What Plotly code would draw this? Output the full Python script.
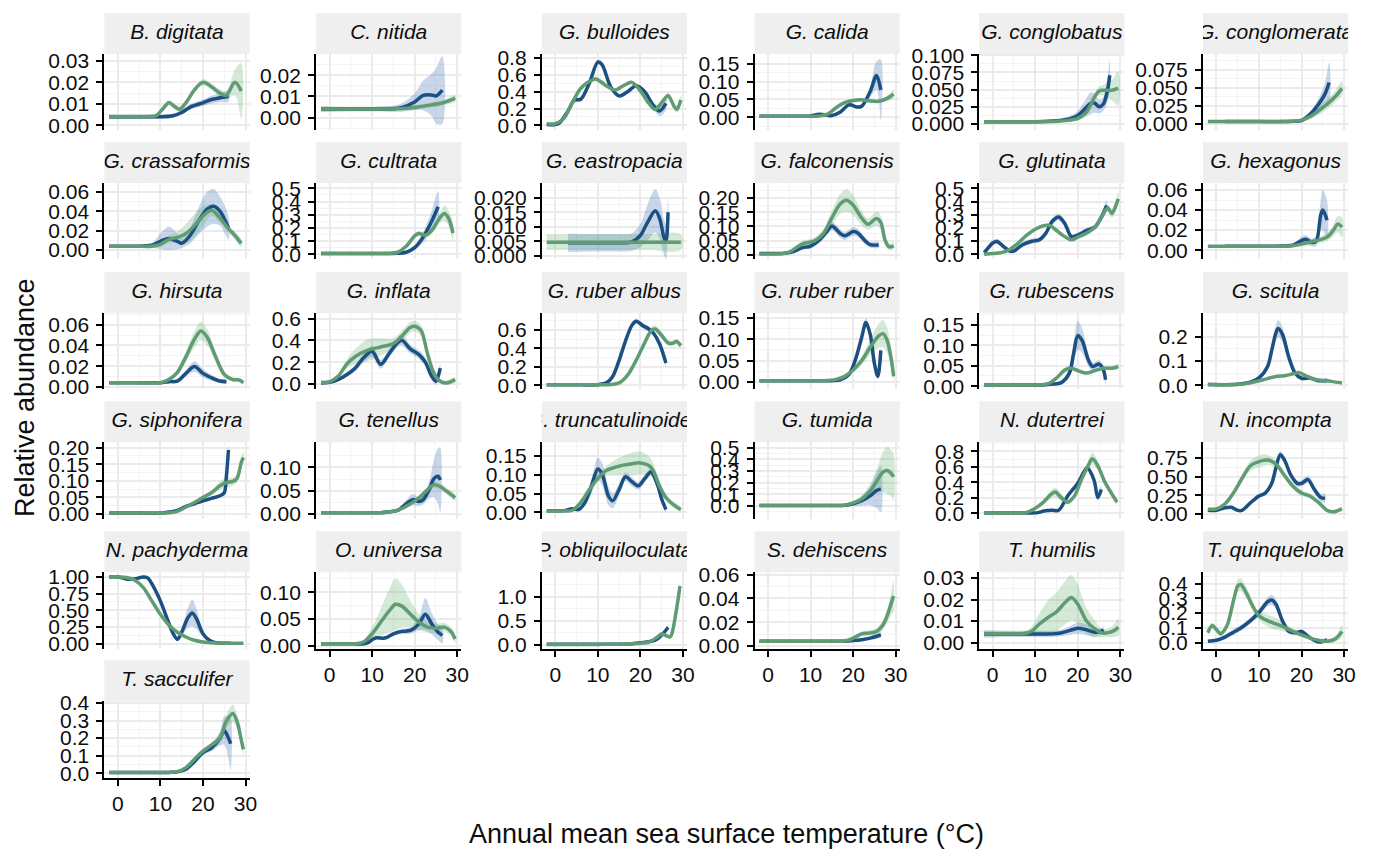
import plotly.graph_objects as go

# ---------------------------------------------------------------
# Species panels (facet order)
# ---------------------------------------------------------------
SPECIES = [
    "B. digitata", "C. nitida", "G. bulloides", "G. calida", "G. conglobatus", "G. conglomerata",
    "G. crassaformis", "G. cultrata", "G. eastropacia", "G. falconensis", "G. glutinata", "G. hexagonus",
    "G. hirsuta", "G. inflata", "G. ruber albus", "G. ruber ruber", "G. rubescens", "G. scitula",
    "G. siphonifera", "G. tenellus", "G. truncatulinoides", "G. tumida", "N. dutertrei", "N. incompta",
    "N. pachyderma", "O. universa", "P. obliquiloculata", "S. dehiscens", "T. humilis", "T. quinqueloba",
    "T. sacculifer",
]

# ---------------------------------------------------------------
# Blue series: temperature, smoothed fit, confidence half-width
# ---------------------------------------------------------------
BLUE_T = {
    "B. digitata": [-2, 2, 6, 10, 13, 15, 17, 20, 22, 24, 26],
    "C. nitida": [-2, 4, 10, 15, 17, 20, 22, 24, 25, 26.5],
    "G. bulloides": [-2, 0, 1, 3, 4.5, 6, 8, 10, 11, 13, 15, 17, 19, 21, 23, 24.5, 26],
    "G. calida": [-2, 4, 10, 12, 14, 15, 17, 19, 21, 22, 24, 25.5, 26.5],
    "G. conglobatus": [-2, 4, 10, 14, 16, 18, 20, 22, 23, 24, 25, 26, 27, 27.5],
    "G. conglomerata": [2, 6, 10, 14, 18, 20, 22, 24, 25.5, 26.5],
    "G. crassaformis": [-2, 4, 8, 10, 12, 14, 15, 17, 19, 21, 22.5, 24, 26],
    "G. cultrata": [-2, 4, 10, 16, 18, 20, 22, 24, 25.5],
    "G. eastropacia": [3, 8, 12, 16, 18, 20, 21.5, 23.5, 24.5, 25.5, 26, 26.5],
    "G. falconensis": [-2, 2, 4, 6, 8, 10, 12, 14, 15, 17, 18, 20, 21, 23, 24, 26],
    "G. glutinata": [-2, -1, 0, 1, 2.5, 4, 5, 7, 9, 11, 12.5, 14, 15.5, 17, 18.5, 20, 22, 24, 25.5, 26.8],
    "G. hexagonus": [2, 8, 14, 18, 20, 21, 22.5, 23.5, 24.5, 25, 26],
    "G. hirsuta": [-2, 4, 10, 12, 14, 16, 18, 20, 22, 24, 25.5],
    "G. inflata": [-2, 0, 2, 4, 6, 8, 10, 12, 14, 16, 17, 19, 21, 22.5, 24, 25, 26],
    "G. ruber albus": [-2, 4, 10, 12, 13.5, 15, 16.5, 18, 19, 20.5, 22, 23, 24.5, 26],
    "G. ruber ruber": [-2, 4, 10, 15, 17, 19, 20.5, 22, 23, 24, 25, 25.8, 26.5],
    "G. rubescens": [-2, 4, 10, 12, 14, 16, 18, 19, 20, 21, 22.5, 23.5, 25, 26, 26.5],
    "G. scitula": [-2, 4, 6, 8, 10, 12, 13, 14, 14.5, 15.5, 17, 18.5, 20, 22, 24, 26],
    "G. siphonifera": [-2, 4, 10, 12, 14, 16, 18, 20, 22, 24, 25, 25.5, 26],
    "G. tenellus": [-2, 4, 10, 12, 14, 16, 18, 19.5, 21, 22, 23.5, 24.5, 25.5, 26],
    "G. truncatulinoides": [-2, 2, 4, 5.5, 7, 8.5, 10, 11, 12.5, 13.5, 15, 16.5, 18, 19.5, 21, 22.5, 24, 25, 26],
    "G. tumida": [-2, 4, 10, 16, 18, 20, 22, 24, 25.5, 26.5],
    "N. dutertrei": [-2, 4, 8, 10.6, 12, 14, 15.5, 17.6, 20, 22.2, 23.8, 24.7, 25.5],
    "N. incompta": [-2, 0, 2, 3.5, 5, 6, 8, 10, 11.5, 13, 14, 15, 16, 17.5, 19, 20, 21.5, 23, 24.5, 25.5],
    "N. pachyderma": [-2, 0, 2, 4, 6, 7, 8.5, 10, 11.5, 13, 14, 15, 16.5, 17.5, 18.5, 20, 21.5, 23, 26.5],
    "O. universa": [-2, 4, 8, 9, 10, 11, 13, 15, 17, 19, 21, 22.5, 24, 25.5, 26.5],
    "P. obliquiloculata": [-2, 4, 10, 14, 16, 18, 20, 22, 24, 25, 26, 26.5],
    "S. dehiscens": [-2, 4, 10, 16, 18, 20, 22, 24, 26.5],
    "T. humilis": [-2, 4, 10, 14, 16, 18, 20, 22, 24, 25.5, 26],
    "T. quinqueloba": [-2, 0, 2, 4, 6, 8, 10, 12, 13, 14, 15.5, 17, 18.5, 20, 21.5, 23, 24.5, 26],
    "T. sacculifer": [-2, 4, 10, 12, 14, 16, 18, 20, 22, 24, 25, 26, 26.5],
}

BLUE_FIT = {
    "B. digitata": [0.004, 0.004, 0.004, 0.004, 0.0045, 0.006, 0.0085, 0.0105, 0.012, 0.0128, 0.0135],
    "C. nitida": [0.004, 0.004, 0.004, 0.0042, 0.0048, 0.0074, 0.0105, 0.0107, 0.0102, 0.013],
    "G. bulloides": [0.01, 0.01, 0.03, 0.17, 0.30, 0.31, 0.50, 0.75, 0.72, 0.46, 0.35, 0.40, 0.47, 0.40, 0.24, 0.17, 0.26],
    "G. calida": [0.003, 0.003, 0.004, 0.009, 0.006, 0.005, 0.015, 0.035, 0.029, 0.031, 0.072, 0.117, 0.077],
    "G. conglobatus": [0.003, 0.003, 0.003, 0.004, 0.005, 0.007, 0.012, 0.024, 0.030, 0.030, 0.025, 0.029, 0.050, 0.071],
    "G. conglomerata": [0.003, 0.003, 0.003, 0.003, 0.0035, 0.0045, 0.013, 0.027, 0.041, 0.057],
    "G. crassaformis": [0.004, 0.004, 0.005, 0.009, 0.012, 0.009, 0.007, 0.015, 0.030, 0.042, 0.045, 0.040, 0.023],
    "G. cultrata": [0.005, 0.005, 0.005, 0.007, 0.015, 0.05, 0.13, 0.25, 0.36],
    "G. eastropacia": [0.0045, 0.0045, 0.0045, 0.0045, 0.0048, 0.007, 0.011, 0.0155, 0.013, 0.0066, 0.005, 0.015],
    "G. falconensis": [0.005, 0.005, 0.006, 0.012, 0.025, 0.031, 0.052, 0.086, 0.102, 0.075, 0.067, 0.082, 0.078, 0.047, 0.036, 0.035],
    "G. glutinata": [0.012, 0.05, 0.085, 0.097, 0.06, 0.024, 0.025, 0.072, 0.097, 0.11, 0.16, 0.25, 0.283, 0.23, 0.133, 0.145, 0.18, 0.205, 0.28, 0.37],
    "G. hexagonus": [0.004, 0.004, 0.004, 0.005, 0.0095, 0.011, 0.0076, 0.0095, 0.035, 0.040, 0.030],
    "G. hirsuta": [0.004, 0.004, 0.004, 0.005, 0.0056, 0.013, 0.0197, 0.013, 0.0088, 0.0056, 0.005],
    "G. inflata": [0.01, 0.015, 0.04, 0.085, 0.145, 0.24, 0.30, 0.18, 0.28, 0.38, 0.40, 0.32, 0.27, 0.20, 0.07, 0.025, 0.145],
    "G. ruber albus": [0.005, 0.005, 0.006, 0.025, 0.095, 0.27, 0.48, 0.65, 0.695, 0.65, 0.61, 0.57, 0.45, 0.24],
    "G. ruber ruber": [0.003, 0.003, 0.003, 0.003, 0.005, 0.017, 0.051, 0.104, 0.139, 0.112, 0.043, 0.013, 0.074],
    "G. rubescens": [0.003, 0.003, 0.003, 0.003, 0.005, 0.008, 0.032, 0.08, 0.124, 0.112, 0.064, 0.048, 0.054, 0.04, 0.016],
    "G. scitula": [0.003, 0.003, 0.006, 0.013, 0.03, 0.076, 0.143, 0.216, 0.233, 0.21, 0.116, 0.05, 0.029, 0.03, 0.019, 0.02],
    "G. siphonifera": [0.003, 0.003, 0.003, 0.006, 0.011, 0.023, 0.031, 0.04, 0.047, 0.055, 0.064, 0.112, 0.193],
    "G. tenellus": [0.003, 0.003, 0.003, 0.003, 0.005, 0.008, 0.022, 0.031, 0.027, 0.031, 0.054, 0.076, 0.081, 0.073],
    "G. truncatulinoides": [0.004, 0.005, 0.01, 0.008, 0.027, 0.07, 0.116, 0.103, 0.044, 0.031, 0.061, 0.095, 0.082, 0.071, 0.09, 0.108, 0.074, 0.036, 0.008],
    "G. tumida": [0.005, 0.005, 0.005, 0.005, 0.007, 0.02, 0.046, 0.087, 0.133, 0.147],
    "N. dutertrei": [0.005, 0.005, 0.005, 0.01, 0.03, 0.04, 0.04, 0.225, 0.39, 0.585, 0.43, 0.205, 0.31],
    "N. incompta": [0.05, 0.05, 0.085, 0.09, 0.05, 0.05, 0.15, 0.24, 0.28, 0.41, 0.62, 0.79, 0.72, 0.52, 0.41, 0.41, 0.46, 0.33, 0.22, 0.21],
    "N. pachyderma": [1.0, 1.0, 0.97, 0.97, 1.0, 0.985, 0.84, 0.64, 0.39, 0.15, 0.065, 0.17, 0.39, 0.46, 0.37, 0.15, 0.05, 0.015, 0.005],
    "O. universa": [0.004, 0.004, 0.004, 0.006, 0.0115, 0.015, 0.0146, 0.0225, 0.027, 0.0287, 0.041, 0.059, 0.041, 0.0256, 0.0195],
    "P. obliquiloculata": [0.007, 0.007, 0.007, 0.008, 0.01, 0.02, 0.04, 0.06, 0.12, 0.20, 0.30, 0.36],
    "S. dehiscens": [0.004, 0.004, 0.004, 0.004, 0.004, 0.0045, 0.0053, 0.0066, 0.0094],
    "T. humilis": [0.0041, 0.0041, 0.0041, 0.0041, 0.0045, 0.0056, 0.0067, 0.006, 0.0049, 0.0053, 0.006],
    "T. quinqueloba": [0.009, 0.016, 0.038, 0.071, 0.104, 0.149, 0.204, 0.276, 0.289, 0.26, 0.149, 0.076, 0.067, 0.076, 0.044, 0.016, 0.004, 0.02],
    "T. sacculifer": [0.005, 0.005, 0.005, 0.005, 0.008, 0.023, 0.066, 0.117, 0.145, 0.198, 0.243, 0.2, 0.168],
}

BLUE_SE = {
    "B. digitata": [0.001, 0.001, 0.001, 0.001, 0.001, 0.001, 0.0012, 0.0015, 0.0018, 0.002, 0.0025],
    "C. nitida": [0.0012, 0.001, 0.001, 0.0015, 0.002, 0.004, 0.007, 0.010, 0.013, 0.016],
    "G. bulloides": [0.01, 0.01, 0.02, 0.03, 0.03, 0.03, 0.03, 0.03, 0.03, 0.03, 0.02, 0.02, 0.02, 0.03, 0.04, 0.06, 0.08],
    "G. calida": [0.002, 0.002, 0.002, 0.003, 0.003, 0.003, 0.004, 0.005, 0.005, 0.006, 0.015, 0.04, 0.085],
    "G. conglobatus": [0.001, 0.001, 0.001, 0.002, 0.003, 0.004, 0.007, 0.013, 0.016, 0.014, 0.010, 0.010, 0.018, 0.022],
    "G. conglomerata": [0.001, 0.001, 0.001, 0.001, 0.001, 0.002, 0.004, 0.008, 0.015, 0.028],
    "G. crassaformis": [0.001, 0.001, 0.002, 0.008, 0.012, 0.008, 0.005, 0.008, 0.014, 0.018, 0.018, 0.015, 0.012],
    "G. cultrata": [0.005, 0.005, 0.005, 0.005, 0.01, 0.02, 0.04, 0.08, 0.12],
    "G. eastropacia": [0.0032, 0.003, 0.003, 0.003, 0.003, 0.004, 0.006, 0.0075, 0.007, 0.006, 0.006, 0.005],
    "G. falconensis": [0.003, 0.003, 0.003, 0.004, 0.006, 0.008, 0.01, 0.015, 0.015, 0.015, 0.015, 0.015, 0.015, 0.012, 0.01, 0.01],
    "G. glutinata": [0.02, 0.02, 0.02, 0.02, 0.02, 0.015, 0.015, 0.02, 0.02, 0.02, 0.02, 0.025, 0.025, 0.025, 0.02, 0.02, 0.02, 0.02, 0.03, 0.04],
    "G. hexagonus": [0.0012, 0.001, 0.001, 0.002, 0.004, 0.004, 0.004, 0.005, 0.015, 0.02, 0.02],
    "G. hirsuta": [0.001, 0.001, 0.001, 0.001, 0.0015, 0.003, 0.005, 0.004, 0.003, 0.002, 0.002],
    "G. inflata": [0.01, 0.01, 0.015, 0.02, 0.03, 0.04, 0.05, 0.04, 0.04, 0.04, 0.05, 0.04, 0.04, 0.04, 0.03, 0.03, 0.04],
    "G. ruber albus": [0.005, 0.005, 0.005, 0.01, 0.015, 0.02, 0.03, 0.03, 0.03, 0.03, 0.03, 0.03, 0.03, 0.03],
    "G. ruber ruber": [0.002, 0.002, 0.002, 0.002, 0.002, 0.004, 0.006, 0.008, 0.01, 0.01, 0.008, 0.006, 0.008],
    "G. rubescens": [0.001, 0.001, 0.001, 0.001, 0.002, 0.004, 0.01, 0.025, 0.035, 0.03, 0.015, 0.01, 0.01, 0.012, 0.015],
    "G. scitula": [0.002, 0.002, 0.003, 0.005, 0.008, 0.015, 0.02, 0.03, 0.035, 0.03, 0.02, 0.01, 0.008, 0.008, 0.008, 0.01],
    "G. siphonifera": [0.002, 0.002, 0.002, 0.002, 0.003, 0.004, 0.004, 0.004, 0.004, 0.005, 0.006, 0.01, 0.015],
    "G. tenellus": [0.001, 0.001, 0.001, 0.001, 0.002, 0.004, 0.008, 0.012, 0.01, 0.01, 0.02, 0.04, 0.06, 0.07],
    "G. truncatulinoides": [0.003, 0.003, 0.004, 0.005, 0.01, 0.02, 0.03, 0.03, 0.025, 0.02, 0.015, 0.012, 0.012, 0.01, 0.01, 0.01, 0.01, 0.01, 0.008],
    "G. tumida": [0.005, 0.005, 0.005, 0.005, 0.008, 0.02, 0.04, 0.08, 0.15, 0.2],
    "N. dutertrei": [0.003, 0.003, 0.003, 0.005, 0.01, 0.015, 0.015, 0.025, 0.03, 0.04, 0.04, 0.04, 0.05],
    "N. incompta": [0.02, 0.02, 0.02, 0.02, 0.02, 0.02, 0.03, 0.03, 0.03, 0.04, 0.04, 0.05, 0.04, 0.04, 0.04, 0.04, 0.05, 0.05, 0.05, 0.06],
    "N. pachyderma": [0.02, 0.02, 0.02, 0.02, 0.02, 0.02, 0.03, 0.03, 0.03, 0.03, 0.03, 0.06, 0.15, 0.2, 0.15, 0.05, 0.02, 0.01, 0.01],
    "O. universa": [0.002, 0.002, 0.002, 0.002, 0.003, 0.003, 0.003, 0.004, 0.005, 0.006, 0.012, 0.03, 0.02, 0.015, 0.015],
    "P. obliquiloculata": [0.01, 0.01, 0.01, 0.01, 0.01, 0.01, 0.01, 0.015, 0.02, 0.03, 0.04, 0.05],
    "S. dehiscens": [0.0012, 0.001, 0.001, 0.001, 0.001, 0.001, 0.0012, 0.0015, 0.002],
    "T. humilis": [0.0018, 0.0015, 0.0015, 0.0015, 0.0015, 0.002, 0.0025, 0.0025, 0.002, 0.0015, 0.0015],
    "T. quinqueloba": [0.01, 0.01, 0.015, 0.02, 0.02, 0.02, 0.025, 0.03, 0.035, 0.03, 0.02, 0.015, 0.015, 0.015, 0.012, 0.01, 0.01, 0.012],
    "T. sacculifer": [0.004, 0.004, 0.004, 0.004, 0.005, 0.008, 0.01, 0.015, 0.02, 0.04, 0.08, 0.12, 0.15],
}

# ---------------------------------------------------------------
# Green series: temperature, smoothed fit, confidence half-width
# ---------------------------------------------------------------
GREEN_T = {
    "B. digitata": [-2, 2, 6, 9, 10.5, 12, 13.5, 14.5, 16, 18, 20, 22, 24, 25.5, 27.5, 29],
    "C. nitida": [-2, 4, 10, 16, 20, 24, 27, 29.5],
    "G. bulloides": [-2, 0, 2, 4, 6, 8, 9.5, 12, 14, 16, 18, 20, 22, 23.5, 25, 26.5, 28, 28.6, 29.5],
    "G. calida": [-2, 4, 10, 12, 14, 16, 18, 20, 22, 24, 26, 28, 29.5],
    "G. conglobatus": [-2, 4, 10, 16, 20, 22, 24, 25, 26, 28, 29.5],
    "G. conglomerata": [-2, 4, 10, 16, 18, 20, 22, 24, 26, 28, 29.5],
    "G. crassaformis": [-2, 4, 8, 10, 12, 14, 16, 18, 20, 22, 24, 26, 27.5, 29],
    "G. cultrata": [-2, 4, 10, 14, 16, 18, 20, 21, 22.5, 24, 26, 27, 28, 29],
    "G. eastropacia": [-2, 4, 10, 16, 22, 29.5],
    "G. falconensis": [-2, 1, 3, 5, 8, 11, 13, 15, 17, 18.5, 20, 22, 23.5, 25.5, 26.5, 27.5, 28.5, 29.5],
    "G. glutinata": [-2, 0, 2, 4, 6, 8, 10, 12, 13.5, 15, 17, 18.5, 20, 22, 24, 25.5, 27, 28, 29, 29.5],
    "G. hexagonus": [-2, 4, 10, 16, 18, 20, 22, 24, 26, 27.5, 28.5, 29.5],
    "G. hirsuta": [-2, 4, 10, 12, 14, 16, 18, 19.5, 21, 23, 25, 27, 28.5, 29.5],
    "G. inflata": [-2, 0, 2, 4, 6, 9, 12, 15, 17, 19, 20, 21.5, 23, 24.5, 26, 27.5, 29.5],
    "G. ruber albus": [-2, 4, 10, 13, 15, 17, 19, 21, 22.5, 23.5, 25, 26.5, 27.5, 28.5, 29.5],
    "G. ruber ruber": [-2, 4, 10, 13, 16, 18, 20, 22, 24, 26, 27, 28, 29, 29.5],
    "G. rubescens": [-2, 4, 10, 13, 15, 17, 18.5, 20, 22, 24, 26, 28, 29.5],
    "G. scitula": [-2, 5, 8, 11, 14, 16, 18, 19.5, 21, 23, 25, 27, 29.5],
    "G. siphonifera": [-2, 4, 10, 12, 14, 16, 18, 20, 22, 24, 25.5, 27, 28, 29, 29.5],
    "G. tenellus": [-2, 4, 10, 12, 15, 17, 19, 21, 23, 24.5, 26, 27.5, 29.5],
    "G. truncatulinoides": [-2, 2, 4, 6, 8, 10, 12, 14, 16, 18, 20, 22, 23, 24.5, 26, 28, 29.5],
    "G. tumida": [-2, 4, 10, 16, 18, 20, 22, 24, 25.5, 27, 28, 29, 29.5],
    "N. dutertrei": [-2, 4, 7.8, 9.8, 11.8, 13.7, 14.7, 16.1, 17.6, 19.2, 20.8, 22.4, 23.4, 24.7, 26.3, 27.8, 29.2],
    "N. incompta": [-2, 0, 2, 4, 6, 8, 10, 12, 14, 16, 18, 20, 22, 24, 26, 27.5, 29.5],
    "N. pachyderma": [-2, 0, 2, 4, 6, 8, 10, 12, 14, 16, 18, 20, 23, 26, 29.5],
    "O. universa": [-2, 4, 6, 8, 10, 12, 14, 15.5, 17, 19, 21, 23, 25, 27, 28.5, 29.5],
    "P. obliquiloculata": [-2, 4, 10, 14, 16, 18, 20, 22, 24, 25, 26, 27, 27.5, 28.5, 29.3],
    "S. dehiscens": [-2, 4, 10, 16, 18, 19, 20.5, 22, 24, 25.5, 27, 28, 29, 29.5],
    "T. humilis": [-2, 4, 7, 9, 11, 13, 15, 17, 18.5, 20, 22, 24, 25.5, 27, 28.5, 29.5],
    "T. quinqueloba": [-2, -1, 0, 1, 2.5, 4, 5, 5.7, 7, 8.5, 10, 12, 14, 16, 18, 20, 22, 24, 26, 28, 29.5],
    "T. sacculifer": [-2, 4, 10, 12, 14, 16, 18, 20, 22, 24, 25.5, 27, 28, 29, 29.5],
}

GREEN_FIT = {
    "B. digitata": [0.004, 0.004, 0.004, 0.0045, 0.0075, 0.0105, 0.0085, 0.0075, 0.0105, 0.0165, 0.020, 0.018, 0.015, 0.014, 0.020, 0.016],
    "C. nitida": [0.004, 0.004, 0.004, 0.0042, 0.0048, 0.006, 0.0072, 0.009],
    "G. bulloides": [0.02, 0.02, 0.08, 0.27, 0.44, 0.52, 0.55, 0.47, 0.42, 0.47, 0.51, 0.41, 0.26, 0.19, 0.27, 0.35, 0.22, 0.19, 0.30],
    "G. calida": [0.003, 0.003, 0.003, 0.004, 0.009, 0.027, 0.041, 0.047, 0.049, 0.046, 0.045, 0.053, 0.065],
    "G. conglobatus": [0.003, 0.003, 0.003, 0.004, 0.008, 0.017, 0.040, 0.048, 0.049, 0.049, 0.052],
    "G. conglomerata": [0.003, 0.003, 0.003, 0.003, 0.0035, 0.005, 0.010, 0.018, 0.027, 0.038, 0.049],
    "G. crassaformis": [0.004, 0.004, 0.004, 0.006, 0.011, 0.013, 0.017, 0.025, 0.035, 0.041, 0.033, 0.022, 0.015, 0.007],
    "G. cultrata": [0.005, 0.005, 0.005, 0.006, 0.015, 0.06, 0.14, 0.157, 0.145, 0.18, 0.28, 0.31, 0.27, 0.16],
    "G. eastropacia": [0.0047, 0.0047, 0.0047, 0.0047, 0.0047, 0.0047],
    "G. falconensis": [0.003, 0.003, 0.004, 0.01, 0.038, 0.05, 0.075, 0.13, 0.18, 0.192, 0.175, 0.13, 0.108, 0.128, 0.114, 0.052, 0.028, 0.032],
    "G. glutinata": [0.0, 0.005, 0.012, 0.036, 0.085, 0.145, 0.19, 0.217, 0.217, 0.18, 0.133, 0.11, 0.13, 0.16, 0.205, 0.28, 0.35, 0.31, 0.375, 0.42],
    "G. hexagonus": [0.004, 0.004, 0.004, 0.004, 0.0045, 0.006, 0.008, 0.010, 0.013, 0.020, 0.026, 0.023],
    "G. hirsuta": [0.004, 0.004, 0.004, 0.007, 0.014, 0.029, 0.046, 0.054, 0.048, 0.029, 0.012, 0.007, 0.0066, 0.004],
    "G. inflata": [0.015, 0.02, 0.07, 0.18, 0.25, 0.31, 0.34, 0.37, 0.44, 0.52, 0.53, 0.49, 0.28, 0.10, 0.025, 0.01, 0.04],
    "G. ruber albus": [0.005, 0.005, 0.005, 0.007, 0.025, 0.11, 0.27, 0.46, 0.59, 0.61, 0.54, 0.46, 0.455, 0.475, 0.43],
    "G. ruber ruber": [0.003, 0.003, 0.003, 0.003, 0.006, 0.013, 0.028, 0.05, 0.081, 0.108, 0.113, 0.097, 0.051, 0.013],
    "G. rubescens": [0.003, 0.003, 0.003, 0.006, 0.02, 0.04, 0.044, 0.038, 0.032, 0.038, 0.044, 0.044, 0.048],
    "G. scitula": [0.003, 0.003, 0.01, 0.023, 0.036, 0.039, 0.047, 0.052, 0.039, 0.025, 0.02, 0.016, 0.009],
    "G. siphonifera": [0.003, 0.003, 0.003, 0.004, 0.008, 0.021, 0.035, 0.05, 0.064, 0.085, 0.095, 0.098, 0.107, 0.155, 0.17],
    "G. tenellus": [0.003, 0.003, 0.003, 0.003, 0.006, 0.012, 0.022, 0.035, 0.052, 0.063, 0.059, 0.049, 0.035],
    "G. truncatulinoides": [0.003, 0.004, 0.006, 0.027, 0.061, 0.091, 0.112, 0.12, 0.126, 0.13, 0.132, 0.125, 0.112, 0.07, 0.04, 0.019, 0.008],
    "G. tumida": [0.005, 0.005, 0.005, 0.005, 0.008, 0.027, 0.06, 0.128, 0.21, 0.29, 0.305, 0.277, 0.25],
    "N. dutertrei": [0.005, 0.005, 0.01, 0.06, 0.14, 0.245, 0.275, 0.205, 0.145, 0.225, 0.43, 0.615, 0.705, 0.615, 0.41, 0.27, 0.145],
    "N. incompta": [0.065, 0.07, 0.135, 0.28, 0.475, 0.645, 0.70, 0.72, 0.665, 0.515, 0.37, 0.28, 0.24, 0.155, 0.05, 0.03, 0.07],
    "N. pachyderma": [1.0, 1.0, 0.99, 0.95, 0.84, 0.64, 0.44, 0.28, 0.17, 0.10, 0.05, 0.025, 0.01, 0.005, 0.005],
    "O. universa": [0.004, 0.004, 0.004, 0.0073, 0.0225, 0.044, 0.065, 0.0774, 0.074, 0.059, 0.044, 0.035, 0.033, 0.035, 0.027, 0.013],
    "P. obliquiloculata": [0.005, 0.005, 0.005, 0.007, 0.01, 0.02, 0.03, 0.055, 0.16, 0.22, 0.19, 0.16, 0.26, 0.74, 1.22],
    "S. dehiscens": [0.004, 0.004, 0.004, 0.004, 0.0042, 0.005, 0.0075, 0.0102, 0.011, 0.0122, 0.0177, 0.0255, 0.0365, 0.042],
    "T. humilis": [0.0042, 0.0042, 0.0042, 0.0052, 0.0087, 0.0117, 0.0143, 0.0186, 0.0209, 0.0178, 0.0102, 0.0064, 0.0046, 0.0046, 0.0056, 0.0072],
    "T. quinqueloba": [0.067, 0.116, 0.089, 0.06, 0.116, 0.282, 0.382, 0.393, 0.338, 0.249, 0.182, 0.149, 0.127, 0.104, 0.076, 0.053, 0.031, 0.016, 0.009, 0.027, 0.076],
    "T. sacculifer": [0.005, 0.005, 0.005, 0.005, 0.009, 0.032, 0.08, 0.126, 0.16, 0.2, 0.296, 0.34, 0.296, 0.19, 0.136],
}

GREEN_SE = {
    "B. digitata": [0.0012, 0.001, 0.001, 0.001, 0.0012, 0.0012, 0.0012, 0.0012, 0.0012, 0.0015, 0.0015, 0.0015, 0.0018, 0.002, 0.006, 0.013],
    "C. nitida": [0.0012, 0.001, 0.001, 0.001, 0.001, 0.0012, 0.0013, 0.0015],
    "G. bulloides": [0.01, 0.01, 0.02, 0.03, 0.03, 0.03, 0.03, 0.03, 0.02, 0.02, 0.02, 0.02, 0.02, 0.03, 0.03, 0.04, 0.04, 0.04, 0.06],
    "G. calida": [0.002, 0.002, 0.002, 0.002, 0.003, 0.004, 0.005, 0.005, 0.005, 0.005, 0.005, 0.008, 0.012],
    "G. conglobatus": [0.001, 0.001, 0.001, 0.001, 0.003, 0.005, 0.006, 0.006, 0.008, 0.015, 0.025],
    "G. conglomerata": [0.001, 0.001, 0.001, 0.001, 0.001, 0.002, 0.004, 0.006, 0.007, 0.008, 0.01],
    "G. crassaformis": [0.001, 0.001, 0.001, 0.002, 0.004, 0.006, 0.010, 0.012, 0.010, 0.006, 0.005, 0.004, 0.004, 0.004],
    "G. cultrata": [0.005, 0.005, 0.005, 0.005, 0.008, 0.015, 0.02, 0.02, 0.02, 0.025, 0.04, 0.06, 0.06, 0.06],
    "G. eastropacia": [0.0027, 0.0027, 0.0027, 0.0027, 0.0027, 0.0027],
    "G. falconensis": [0.003, 0.003, 0.003, 0.005, 0.01, 0.012, 0.015, 0.025, 0.035, 0.04, 0.035, 0.025, 0.02, 0.025, 0.025, 0.02, 0.012, 0.012],
    "G. glutinata": [0.01, 0.01, 0.01, 0.01, 0.012, 0.015, 0.015, 0.015, 0.015, 0.012, 0.01, 0.01, 0.012, 0.015, 0.02, 0.025, 0.03, 0.035, 0.045, 0.05],
    "G. hexagonus": [0.001, 0.001, 0.001, 0.001, 0.001, 0.002, 0.003, 0.003, 0.004, 0.006, 0.008, 0.01],
    "G. hirsuta": [0.001, 0.001, 0.001, 0.002, 0.003, 0.005, 0.008, 0.009, 0.008, 0.005, 0.003, 0.002, 0.002, 0.002],
    "G. inflata": [0.01, 0.01, 0.02, 0.04, 0.07, 0.1, 0.08, 0.05, 0.05, 0.05, 0.05, 0.05, 0.04, 0.03, 0.02, 0.02, 0.02],
    "G. ruber albus": [0.005, 0.005, 0.005, 0.005, 0.01, 0.015, 0.02, 0.03, 0.04, 0.04, 0.035, 0.03, 0.03, 0.03, 0.03],
    "G. ruber ruber": [0.002, 0.002, 0.002, 0.002, 0.002, 0.004, 0.006, 0.01, 0.018, 0.028, 0.032, 0.03, 0.02, 0.012],
    "G. rubescens": [0.001, 0.001, 0.001, 0.002, 0.004, 0.006, 0.006, 0.005, 0.004, 0.004, 0.004, 0.005, 0.006],
    "G. scitula": [0.002, 0.002, 0.003, 0.004, 0.005, 0.005, 0.006, 0.006, 0.005, 0.004, 0.004, 0.004, 0.004],
    "G. siphonifera": [0.002, 0.002, 0.002, 0.002, 0.003, 0.004, 0.005, 0.006, 0.008, 0.012, 0.015, 0.012, 0.012, 0.015, 0.018],
    "G. tenellus": [0.001, 0.001, 0.001, 0.001, 0.002, 0.003, 0.004, 0.005, 0.006, 0.007, 0.007, 0.007, 0.007],
    "G. truncatulinoides": [0.003, 0.003, 0.004, 0.006, 0.008, 0.01, 0.012, 0.02, 0.025, 0.03, 0.03, 0.025, 0.02, 0.015, 0.01, 0.008, 0.006],
    "G. tumida": [0.005, 0.005, 0.005, 0.005, 0.008, 0.015, 0.03, 0.06, 0.1, 0.17, 0.2, 0.2, 0.2],
    "N. dutertrei": [0.003, 0.003, 0.005, 0.015, 0.03, 0.05, 0.06, 0.05, 0.03, 0.03, 0.04, 0.06, 0.08, 0.06, 0.04, 0.03, 0.03],
    "N. incompta": [0.02, 0.02, 0.03, 0.04, 0.05, 0.07, 0.08, 0.07, 0.05, 0.04, 0.04, 0.04, 0.03, 0.03, 0.02, 0.02, 0.02],
    "N. pachyderma": [0.02, 0.02, 0.02, 0.02, 0.02, 0.02, 0.02, 0.02, 0.02, 0.02, 0.015, 0.01, 0.01, 0.01, 0.01],
    "O. universa": [0.002, 0.002, 0.002, 0.004, 0.012, 0.025, 0.04, 0.048, 0.04, 0.025, 0.015, 0.01, 0.008, 0.008, 0.008, 0.008],
    "P. obliquiloculata": [0.01, 0.01, 0.01, 0.01, 0.01, 0.01, 0.01, 0.015, 0.02, 0.03, 0.03, 0.03, 0.04, 0.06, 0.08],
    "S. dehiscens": [0.0012, 0.001, 0.001, 0.001, 0.001, 0.0012, 0.0015, 0.002, 0.0025, 0.003, 0.004, 0.006, 0.01, 0.013],
    "T. humilis": [0.0012, 0.001, 0.001, 0.002, 0.005, 0.008, 0.009, 0.01, 0.0105, 0.009, 0.006, 0.004, 0.002, 0.002, 0.003, 0.004],
    "T. quinqueloba": [0.02, 0.02, 0.02, 0.02, 0.02, 0.03, 0.04, 0.045, 0.04, 0.03, 0.03, 0.04, 0.04, 0.03, 0.02, 0.015, 0.01, 0.01, 0.01, 0.02, 0.04],
    "T. sacculifer": [0.004, 0.004, 0.004, 0.004, 0.005, 0.008, 0.01, 0.012, 0.015, 0.03, 0.04, 0.05, 0.04, 0.03, 0.03],
}

# ---------------------------------------------------------------
# Per-panel y axis: tick labels and limits
# ---------------------------------------------------------------
Y_TICKS = {
    "B. digitata": ["0.00", "0.01", "0.02", "0.03"],
    "C. nitida": ["0.00", "0.01", "0.02"],
    "G. bulloides": ["0.0", "0.2", "0.4", "0.6", "0.8"],
    "G. calida": ["0.00", "0.05", "0.10", "0.15"],
    "G. conglobatus": ["0.000", "0.025", "0.050", "0.075", "0.100"],
    "G. conglomerata": ["0.000", "0.025", "0.050", "0.075"],
    "G. crassaformis": ["0.00", "0.02", "0.04", "0.06"],
    "G. cultrata": ["0.0", "0.1", "0.2", "0.3", "0.4", "0.5"],
    "G. eastropacia": ["0.000", "0.005", "0.010", "0.015", "0.020"],
    "G. falconensis": ["0.00", "0.05", "0.10", "0.15", "0.20"],
    "G. glutinata": ["0.0", "0.1", "0.2", "0.3", "0.4", "0.5"],
    "G. hexagonus": ["0.00", "0.02", "0.04", "0.06"],
    "G. hirsuta": ["0.00", "0.02", "0.04", "0.06"],
    "G. inflata": ["0.0", "0.2", "0.4", "0.6"],
    "G. ruber albus": ["0.0", "0.2", "0.4", "0.6"],
    "G. ruber ruber": ["0.00", "0.05", "0.10", "0.15"],
    "G. rubescens": ["0.00", "0.05", "0.10", "0.15"],
    "G. scitula": ["0.0", "0.1", "0.2"],
    "G. siphonifera": ["0.00", "0.05", "0.10", "0.15", "0.20"],
    "G. tenellus": ["0.00", "0.05", "0.10"],
    "G. truncatulinoides": ["0.00", "0.05", "0.10", "0.15"],
    "G. tumida": ["0.0", "0.1", "0.2", "0.3", "0.4", "0.5"],
    "N. dutertrei": ["0.0", "0.2", "0.4", "0.6", "0.8"],
    "N. incompta": ["0.00", "0.25", "0.50", "0.75"],
    "N. pachyderma": ["0.00", "0.25", "0.50", "0.75", "1.00"],
    "O. universa": ["0.00", "0.05", "0.10"],
    "P. obliquiloculata": ["0.0", "0.5", "1.0"],
    "S. dehiscens": ["0.00", "0.02", "0.04", "0.06"],
    "T. humilis": ["0.00", "0.01", "0.02", "0.03"],
    "T. quinqueloba": ["0.0", "0.1", "0.2", "0.3", "0.4"],
    "T. sacculifer": ["0.0", "0.1", "0.2", "0.3", "0.4"],
}

Y_LIMITS = {
    "B. digitata": [-0.0023, 0.0332], "C. nitida": [-0.006, 0.030],
    "G. bulloides": [-0.058, 0.846], "G. calida": [-0.036, 0.177],
    "G. conglobatus": [-0.0095, 0.102], "G. conglomerata": [-0.009, 0.0965],
    "G. crassaformis": [-0.0095, 0.0688], "G. cultrata": [-0.039, 0.54],
    "G. eastropacia": [-0.0012, 0.025], "G. falconensis": [-0.0156, 0.2525],
    "G. glutinata": [-0.039, 0.54], "G. hexagonus": [-0.0092, 0.067],
    "G. hirsuta": [-0.0025, 0.0712], "G. inflata": [-0.05, 0.65],
    "G. ruber albus": [-0.046, 0.783], "G. ruber ruber": [-0.0175, 0.161],
    "G. rubescens": [-0.008, 0.179], "G. scitula": [-0.017, 0.296],
    "G. siphonifera": [-0.0134, 0.216], "G. tenellus": [-0.0095, 0.154],
    "G. truncatulinoides": [-0.016, 0.187], "G. tumida": [-0.106, 0.546],
    "N. dutertrei": [-0.066, 0.919], "N. incompta": [-0.059, 0.958],
    "N. pachyderma": [-0.074, 1.069], "O. universa": [-0.005, 0.137],
    "P. obliquiloculata": [-0.082, 1.507], "S. dehiscens": [-0.0022, 0.062],
    "T. humilis": [-0.0027, 0.0326], "T. quinqueloba": [-0.04, 0.476],
    "T. sacculifer": [-0.025, 0.409],
}

X_TICKS = ["0", "10", "20", "30"]
X_LIMITS = [-3.15, 30.95]

X_TITLE = "Annual mean sea surface temperature (°C)"
Y_TITLE = "Relative abundance"

# ---------------------------------------------------------------
# Page geometry (pixels) and styling
# ---------------------------------------------------------------
FIG_W, FIG_H = 1378, 860
NCOL = 6
COL_LEFT = [105, 318, 545, 759, 985, 1210]
PANEL_W = 146
ROW_TOP = [45, 177, 310, 442, 575, 707]
PANEL_H = 78
STRIP_H = 42

FONT = "Liberation Sans, Arial, Helvetica, sans-serif"
INK = "#0d0d0d"
BLUE = "#1c4f82"
GREEN = "#5f9c73"
BLUE_BAND = "rgba(70,120,180,0.30)"
GREEN_BAND = "rgba(100,175,115,0.27)"
GRID = "#ebebeb"
GRID_MINOR = "#f4f4f4"
STRIP_BG = "#efefef"


def px_x(p):
    return p / FIG_W


def px_y(p):
    return 1 - p / FIG_H


def ribbon(t, fit, se):
    upper = [f + s for f, s in zip(fit, se)]
    lower = [f - s for f, s in zip(fit, se)]
    return list(t) + list(t)[::-1], upper + lower[::-1]


fig = go.Figure()
layout_axes = {}
shapes = []
n_panels = len(SPECIES)

for i, sp in enumerate(SPECIES):
    row, col = divmod(i, NCOL)
    n = i + 1
    m = n_panels + 1 + i
    xa, ya = ("x", "y") if n == 1 else (f"x{n}", f"y{n}")
    bottom = i + NCOL >= n_panels

    # confidence ribbons
    for t, fit, se, band in ((BLUE_T[sp], BLUE_FIT[sp], BLUE_SE[sp], BLUE_BAND),
                             (GREEN_T[sp], GREEN_FIT[sp], GREEN_SE[sp], GREEN_BAND)):
        rx, ry = ribbon(t, fit, se)
        fig.add_trace(go.Scatter(
            x=rx, y=ry, mode="lines", fill="toself", fillcolor=band,
            line=dict(width=0, shape="spline", smoothing=0.9),
            hoverinfo="skip", showlegend=False, xaxis=xa, yaxis=ya))

    # smoothed fits
    for t, fit, colr in ((BLUE_T[sp], BLUE_FIT[sp], BLUE), (GREEN_T[sp], GREEN_FIT[sp], GREEN)):
        fig.add_trace(go.Scatter(
            x=t, y=fit, mode="lines",
            line=dict(color=colr, width=3.5, shape="spline", smoothing=0.9),
            showlegend=False, xaxis=xa, yaxis=ya))

    # facet strip label (clipped to its strip)
    fig.add_trace(go.Scatter(
        x=[0.5], y=[0.5], mode="text", text=[sp],
        textfont=dict(family=FONT, size=21, color=INK, style="italic"),
        textposition="middle center", cliponaxis=True,
        hoverinfo="skip", showlegend=False, xaxis=f"x{m}", yaxis=f"y{m}"))

    left = COL_LEFT[col]
    top = ROW_TOP[row]
    xdom = [px_x(left), px_x(left + PANEL_W)]
    ydom = [px_y(top + PANEL_H), px_y(top)]
    sdom = [px_y(top), px_y(top - STRIP_H)]

    yt = [float(s) for s in Y_TICKS[sp]]
    lo, hi = Y_LIMITS[sp]
    step = yt[1] - yt[0]
    y_minor = [v for v in [yt[0] - step / 2 + k * step for k in range(len(yt) + 1)] if lo < v < hi]

    xkey = "xaxis" if n == 1 else f"xaxis{n}"
    ykey = "yaxis" if n == 1 else f"yaxis{n}"
    layout_axes[xkey] = dict(
        domain=xdom, range=X_LIMITS, anchor=ya, fixedrange=True,
        tickmode="array", tickvals=[float(v) for v in X_TICKS], ticktext=X_TICKS,
        showgrid=True, gridcolor=GRID, gridwidth=1.5, zeroline=False,
        minor=dict(tickmode="array", tickvals=[5, 15, 25], showgrid=True,
                   gridcolor=GRID_MINOR, gridwidth=0.9, ticks=""),
        showline=bottom, linecolor="black", linewidth=2,
        ticks="outside" if bottom else "", ticklen=6, tickwidth=1.5, tickcolor="black",
        showticklabels=bottom, tickfont=dict(family=FONT, size=21, color=INK),
    )
    layout_axes[ykey] = dict(
        domain=ydom, range=[lo, hi], anchor=xa, fixedrange=True,
        tickmode="array", tickvals=yt, ticktext=Y_TICKS[sp],
        showgrid=True, gridcolor=GRID, gridwidth=1.5, zeroline=False,
        minor=dict(tickmode="array", tickvals=y_minor, showgrid=True,
                   gridcolor=GRID_MINOR, gridwidth=0.9, ticks=""),
        showline=True, linecolor="black", linewidth=2,
        ticks="outside", ticklen=6, tickwidth=1.5, tickcolor="black",
        ticklabelstandoff=3,
        tickfont=dict(family=FONT, size=21, color=INK),
    )
    layout_axes[f"xaxis{m}"] = dict(domain=xdom, range=[0, 1], visible=False,
                                    fixedrange=True, anchor=f"y{m}")
    layout_axes[f"yaxis{m}"] = dict(domain=sdom, range=[0, 1], visible=False,
                                    fixedrange=True, anchor=f"x{m}")
    shapes.append(dict(type="rect", xref=f"x{m} domain", yref=f"y{m} domain",
                       x0=0, x1=1, y0=0, y1=1, fillcolor=STRIP_BG,
                       line=dict(width=0), layer="below"))

panels_mid_x = (COL_LEFT[0] + COL_LEFT[-1] + PANEL_W) / 2
annotations = [
    dict(text=X_TITLE, x=px_x(panels_mid_x), y=px_y(843), xref="paper", yref="paper",
         showarrow=False, xanchor="center", yanchor="middle",
         font=dict(family=FONT, size=27, color=INK)),
    dict(text=Y_TITLE, x=px_x(25), y=px_y(396), xref="paper", yref="paper",
         showarrow=False, xanchor="center", yanchor="middle", textangle=-90,
         font=dict(family=FONT, size=27, color=INK)),
]

fig.update_layout(
    width=FIG_W, height=FIG_H,
    margin=dict(l=0, r=0, t=0, b=0),
    paper_bgcolor="white", plot_bgcolor="white",
    font=dict(family=FONT, color=INK),
    showlegend=False,
    shapes=shapes,
    annotations=annotations,
    **layout_axes,
)

fig.write_html("out.html")
